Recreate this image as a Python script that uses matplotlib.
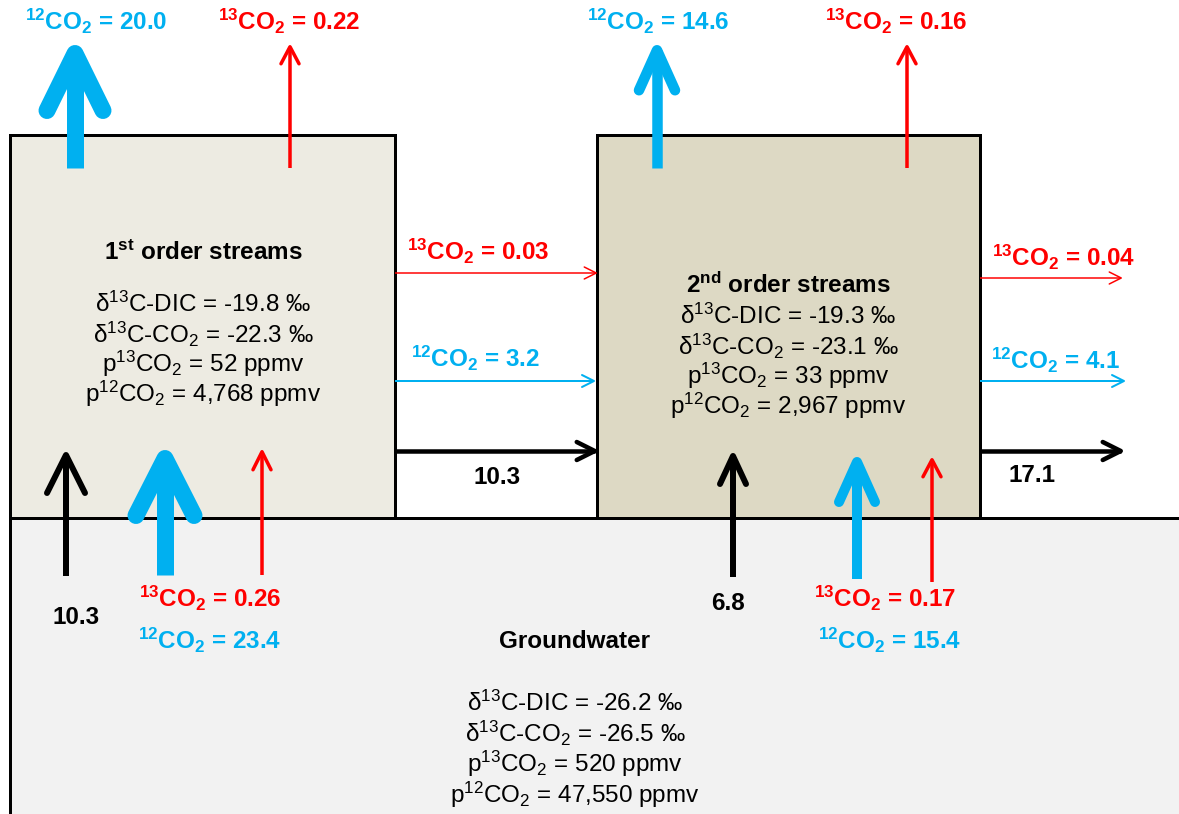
import numpy as np
import matplotlib
matplotlib.use("Agg")
import matplotlib.pyplot as plt
from matplotlib.patches import Rectangle

plt.rcParams['font.family'] = ['Liberation Sans', 'DejaVu Sans']
plt.rcParams['mathtext.fontset'] = 'custom'
plt.rcParams['mathtext.rm'] = 'Liberation Sans'
plt.rcParams['mathtext.it'] = 'Liberation Sans'
plt.rcParams['mathtext.bf'] = 'Liberation Sans:bold'

# ---------------- data ----------------
box_names = ["1st order streams", "2nd order streams", "Groundwater"]
d13c_dic = [-19.8, -19.3, -26.2]
d13c_co2 = [-22.3, -23.1, -26.5]
p13co2 = [52, 33, 520]
p12co2 = [4768, 2967, 47550]
evasion_12 = [20.0, 14.6]
evasion_13 = [0.22, 0.16]
gw_inflow_12 = [23.4, 15.4]
gw_inflow_13 = [0.26, 0.17]
gw_inflow_water = [10.3, 6.8]
downstream_12 = [3.2, 4.1]
downstream_13 = [0.03, 0.04]
downstream_water = [10.3, 17.1]

BLUE = '#00B0F0'
RED = '#FF0000'
BLACK = '#000000'
FS = 17.5

fig = plt.figure(figsize=(11.79, 8.14), dpi=100)
ax = fig.add_axes([0, 0, 1, 1])
ax.set_xlim(0, 1179)
ax.set_ylim(814, 0)
ax.axis('off')

PT = 0.72  # px -> pt at 100 dpi


def arrow(x0, y0, x1, y1, color, lw, hl, hw):
    p0 = np.array([x0, y0], float)
    p1 = np.array([x1, y1], float)
    u = (p1 - p0) / np.linalg.norm(p1 - p0)
    n = np.array([-u[1], u[0]])
    v = p1 - u * lw / 2
    ax.plot([p0[0], v[0]], [p0[1], v[1]], color=color, lw=lw * PT,
            solid_capstyle='butt', zorder=5)
    a = v - u * hl + n * hw
    b = v - u * hl - n * hw
    ax.plot([a[0], v[0], b[0]], [a[1], v[1], b[1]], color=color, lw=lw * PT,
            solid_capstyle='round', solid_joinstyle='round', zorder=5)


def co2(iso, val, fmt):
    return r"$\mathbf{{}^{%d}CO_{2}}$ = %s" % (iso, format(val, fmt))


def bold(x, y, s, color, ha='center'):
    ax.text(x, y, s, color=color, fontsize=FS, fontweight='bold',
            ha=ha, va='center', zorder=6)


# ---------------- boxes ----------------
ax.add_patch(Rectangle((10, 518), 1200, 400, facecolor='#F2F2F2',
                       edgecolor='black', lw=3 * PT, zorder=1))
ax.add_patch(Rectangle((10, 135), 385, 383, facecolor='#EDEBE2',
                       edgecolor='black', lw=3 * PT, zorder=2))
ax.add_patch(Rectangle((597, 135), 383, 383, facecolor='#DDD9C4',
                       edgecolor='black', lw=3 * PT, zorder=2))


def box_text(cx, ys, i, title):
    ax.text(cx, ys[0], title, fontsize=FS, fontweight='bold', ha='center',
            va='center', zorder=6)
    lines = [r"δ$^{13}$C-DIC = %.1f ‰" % d13c_dic[i],
             r"δ$^{13}$C-CO$_{2}$ = %.1f ‰" % d13c_co2[i],
             r"p$^{13}$CO$_{2}$ = %s ppmv" % format(p13co2[i], ','),
             r"p$^{12}$CO$_{2}$ = %s ppmv" % format(p12co2[i], ',')]
    for y, s in zip(ys[1:], lines):
        ax.text(cx, y, s, fontsize=FS, ha='center', va='center', zorder=6)


box_text(203, [253, 304, 334, 364, 394], 0, r"1$^{\mathbf{st}}$ order streams")
box_text(788, [285, 316, 346, 376, 406], 1, r"2$^{\mathbf{nd}}$ order streams")
box_text(575, [641, 703, 733, 764, 795], 2, "Groundwater")

# ---------------- evasion arrows ----------------
arrow(75, 168, 75, 45, BLUE, 17, 57, 28)
arrow(290, 168, 290, 45, RED, 3.5, 17, 9)
arrow(657, 168, 657, 45, BLUE, 10.5, 40, 18)
arrow(907, 168, 907, 45, RED, 3.5, 17, 9)
bold(96, 21, co2(12, evasion_12[0], '.1f'), BLUE)
bold(289, 21, co2(13, evasion_13[0], '.2f'), RED)
bold(658, 21, co2(12, evasion_12[1], '.1f'), BLUE)
bold(896, 21, co2(13, evasion_13[1], '.2f'), RED)

# ---------------- downstream arrows ----------------
arrow(395, 273, 597, 273, RED, 1.5, 12, 6)
arrow(395, 381, 595, 381, BLUE, 2, 12, 6)
arrow(395, 451, 597, 451, BLACK, 4.5, 18, 9)
arrow(980, 278, 1122, 278, RED, 1.5, 12, 6)
arrow(980, 381, 1125, 381, BLUE, 2, 12, 6)
arrow(980, 451, 1123, 451, BLACK, 4.5, 18, 9)
bold(478, 251, co2(13, downstream_13[0], '.2f'), RED)
bold(475, 358, co2(12, downstream_12[0], '.1f'), BLUE)
bold(497, 478, format(downstream_water[0], '.1f'), BLACK)
bold(1064, 257, co2(13, downstream_13[1], '.2f'), RED)
bold(1056, 360, co2(12, downstream_12[1], '.1f'), BLUE)
bold(1032, 476, format(downstream_water[1], '.1f'), BLACK)

# ---------------- groundwater inflow arrows ----------------
arrow(66, 576, 66, 452, BLACK, 6, 38, 19)
arrow(165, 575, 165, 450, BLUE, 17, 57, 29)
arrow(262, 575, 262, 450, RED, 3.5, 18, 9)
arrow(733, 577, 733, 453, BLACK, 6, 28, 13)
arrow(857, 579, 857, 457, BLUE, 10, 40, 18)
arrow(932, 582, 932, 458, RED, 3.5, 17, 9)
bold(76, 617, format(gw_inflow_water[0], '.1f'), BLACK)
bold(210, 598, co2(13, gw_inflow_13[0], '.2f'), RED)
bold(210, 640, co2(12, gw_inflow_12[0], '.1f'), BLUE)
bold(728, 603, format(gw_inflow_water[1], '.1f'), BLACK)
bold(885, 598, co2(13, gw_inflow_13[1], '.2f'), RED)
bold(890, 640, co2(12, gw_inflow_12[1], '.1f'), BLUE)

fig.savefig('out.png', dpi=100)
